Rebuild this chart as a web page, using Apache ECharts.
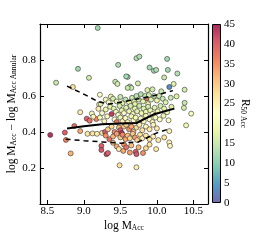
<!DOCTYPE html>
<html><head><meta charset="utf-8">
<script src="https://cdn.jsdelivr.net/npm/echarts@6/dist/echarts.min.js"></script>
<style>html,body{margin:0;padding:0;background:#fff}#c{width:270px;height:240px}</style>
</head><body><div id="c"></div>
<script>
// scatter points: log M_Acc, log M_Acc - log M_Acc Annular, R50 Acc
const logMAcc = [
9.19,8.92,9.47,9.07,8.62,8.85,9.43,9.46,9.60,9.37,9.22,9.21,9.72,9.76,10.14,9.90,9.96,9.99,10.15,10.28,9.58,10.10,9.74,9.63,9.65,10.23,10.17,10.38,9.87,9.94,10.06,9.60,10.27,10.38,10.37,10.47,9.86,9.23,
9.30,9.34,9.40,9.45,9.50,9.53,9.57,9.62,9.66,9.69,9.72,9.75,9.78,9.81,9.84,9.89,9.92,9.96,10.00,10.03,10.08,10.12,10.19,9.70,9.88,
8.95,9.11,9.20,9.25,9.30,9.38,9.36,9.41,9.44,9.47,9.49,9.52,9.55,9.58,9.62,9.64,9.67,9.70,9.73,9.76,9.79,9.82,9.85,9.88,9.91,9.94,9.97,10.01,10.05,10.10,10.14,10.20,
9.04,9.08,9.17,9.13,9.22,9.28,9.32,9.42,9.45,9.50,9.53,9.57,9.60,9.65,9.68,9.71,9.75,9.78,9.82,9.85,9.90,9.94,9.98,10.04,10.09,10.16,
8.74,8.87,8.95,9.05,9.12,9.18,9.25,9.29,9.33,9.38,9.42,9.48,9.50,9.52,9.55,9.58,9.62,9.65,9.68,9.72,9.76,9.80,9.85,9.90,9.95,10.00,10.17,10.40,
8.54,8.755,9.30,9.35,9.40,9.45,9.50,9.53,9.57,9.60,9.63,9.67,9.70,9.73,9.77,9.80,9.85,9.90,9.95,10.02,10.10,10.17,10.18,
8.82,9.24,9.24,9.31,9.33,9.40,9.45,9.48,9.54,9.55,9.58,9.63,9.65,9.71,9.72,9.75,9.81,9.85,9.90,9.99,
9.49,9.72
];
const deltaLogM = [
0.978,0.751,0.773,0.701,0.674,0.650,0.679,0.667,0.706,0.597,0.607,0.553,0.810,0.819,0.806,0.758,0.740,0.745,0.745,0.725,0.709,0.703,0.670,0.653,0.645,0.667,0.650,0.635,0.633,0.637,0.626,0.645,0.598,0.562,0.534,0.502,0.586,0.556,
0.580,0.565,0.585,0.570,0.595,0.560,0.580,0.565,0.590,0.570,0.600,0.580,0.610,0.570,0.600,0.605,0.580,0.600,0.575,0.600,0.585,0.565,0.590,0.555,0.555,
0.510,0.503,0.529,0.505,0.525,0.500,0.540,0.530,0.512,0.495,0.545,0.520,0.505,0.535,0.515,0.545,0.500,0.530,0.515,0.545,0.505,0.530,0.512,0.540,0.520,0.500,0.535,0.515,0.545,0.530,0.510,0.540,
0.474,0.463,0.472,0.485,0.480,0.460,0.487,0.470,0.455,0.480,0.460,0.477,0.455,0.487,0.465,0.480,0.455,0.475,0.460,0.490,0.470,0.455,0.480,0.470,0.490,0.465,
0.397,0.433,0.405,0.390,0.392,0.390,0.395,0.400,0.415,0.430,0.400,0.425,0.410,0.395,0.430,0.440,0.415,0.430,0.400,0.425,0.440,0.410,0.430,0.415,0.440,0.420,0.405,0.437,
0.384,0.356,0.380,0.360,0.375,0.390,0.370,0.385,0.360,0.380,0.365,0.390,0.370,0.355,0.385,0.365,0.380,0.360,0.375,0.355,0.370,0.342,0.323,
0.281,0.323,0.300,0.277,0.283,0.340,0.320,0.305,0.295,0.330,0.315,0.286,0.325,0.290,0.277,0.315,0.283,0.310,0.330,0.305,
0.215,0.204
];
const r50Acc = [
12,12,13,16,15,27,15,16,13,18,22,19,13,13,12,12,12,13,12,13,12,15,16,14,15,17,3,16,17,16,15,15,17,15,16,21,40,18,
20,21,16,18,15,17,14,19,15,17,14,16,13,18,15,16,17,14,18,16,15,17,15,18,19,
25,20,25,22,19,43,18,17,20,21,16,18,22,17,19,16,21,18,17,15,20,17,19,16,18,21,17,19,16,18,20,17,
40,38,36,24,20,24,21,23,38,20,25,22,24,19,22,20,25,21,23,19,22,24,20,22,19,23,
40,38,33,26,27,25,26,41,30,28,36,32,40,44,30,29,35,33,30,28,25,27,24,26,24,26,25,20,
44,36,35,38,32,34,30,36,33,31,28,30,34,29,27,25,26,27,25,26,27,25,24,
32,40,41,42,40,30,33,26,33,35,38,34,31,40,41,32,35,28,27,26,
27,25
];
// running median and percentile lines
const medianX = [8.77, 9.0, 9.25, 9.5, 9.72, 9.95, 10.24];
const medianY = [0.42, 0.432, 0.443, 0.447, 0.45, 0.497, 0.53];
const upperX = [8.77, 9.0, 9.2, 9.35, 9.5, 9.75, 10.0, 10.22];
const upperY = [0.655, 0.61, 0.568, 0.555, 0.565, 0.585, 0.605, 0.63];
const lowerX = [8.75, 9.0, 9.25, 9.5, 9.75, 9.9, 10.0, 10.15];
const lowerY = [0.36, 0.352, 0.345, 0.338, 0.345, 0.375, 0.395, 0.415];
const cbarTicks = [0, 5, 10, 15, 20, 25, 30, 35, 40, 45];

const cmap = ['#7669b0','#519ac7','#7dcbb2','#b7e2b1','#eaf6a7','#ffffc8','#fee49c','#fdba78','#f5835f','#db5b69','#ac275e'];
const FONT = 'Liberation Serif';
const pts = logMAcc.map((x, i) => [x, deltaLogM[i], r50Acc[i]]);
const zip = (a, b) => a.map((x, i) => [x, b[i]]);

const chart = echarts.init(document.getElementById('c'), null, {renderer: 'canvas'});
const tickStyle = {inside: true, length: 4, lineStyle: {color: '#000', width: 1}};
const lineStyle = {show: true, onZero: false, lineStyle: {color: '#000', width: 1.2}};
const lbl = {color: '#000', fontFamily: FONT, fontSize: 11};
const rich = {
  m: {fontFamily: FONT, fontSize: 11.5, color: '#000', verticalAlign: 'top', lineHeight: 12},
  s: {fontFamily: FONT, fontSize: 7.5, color: '#000', verticalAlign: 'bottom', lineHeight: 8, padding: [5, 0, 0, 0]}
};
const gradStops = cmap.map((c, i) => ({offset: 1 - i / (cmap.length - 1), color: c}));

chart.setOption({
  animation: false,
  grid: [
    {left: 40, top: 24, width: 168, height: 180, containLabel: false, outerBoundsMode: 'none'},
    {left: 212, top: 24, width: 9, height: 179, containLabel: false, outerBoundsMode: 'none'}
  ],
  visualMap: {type: 'continuous', show: false, min: 0, max: 45, dimension: 2, seriesIndex: 0, inRange: {color: cmap}},
  xAxis: [
    {gridIndex: 0, type: 'value', min: 8.4, max: 10.7, splitNumber: 5, position: 'bottom',
     axisLine: lineStyle, axisTick: tickStyle, splitLine: {show: false},
     axisLabel: Object.assign({margin: 2, formatter: v => Math.abs(v * 2 - Math.round(v * 2)) < 1e-6 ? v.toFixed(1) : ''}, lbl),
     name: '{m|log M}{s|Acc}', nameLocation: 'middle', nameGap: 16, nameMoveOverlap: false, nameTextStyle: {rich: rich}},
    {gridIndex: 0, type: 'value', min: 8.4, max: 10.7, splitNumber: 5, position: 'top',
     axisLine: lineStyle, axisTick: tickStyle, splitLine: {show: false}, axisLabel: {show: false}},
    {gridIndex: 1, type: 'category', data: ['c'], show: false}
  ],
  yAxis: [
    {gridIndex: 0, type: 'value', min: 0, max: 1, interval: 0.2, position: 'left',
     axisLine: lineStyle, axisTick: tickStyle, splitLine: {show: false},
     axisLabel: Object.assign({margin: 4, formatter: v => (v > 0.01 && v < 0.99) ? v.toFixed(1) : ''}, lbl),
     name: '{m|log M}{s|Acc}{m| − log M}{s|Acc Annular}', nameLocation: 'middle', nameGap: 22, nameRotate: 90,
     nameMoveOverlap: false, nameTextStyle: {rich: rich}},
    {gridIndex: 0, type: 'value', min: 0, max: 1, interval: 0.2, position: 'right',
     axisLine: lineStyle, axisTick: tickStyle, splitLine: {show: false}, axisLabel: {show: false}},
    {gridIndex: 1, type: 'value', min: 0, max: 45, interval: 5, position: 'right',
     axisLine: {show: false}, axisTick: {inside: true, length: 3, lineStyle: {color: '#000', width: 1}},
     splitLine: {show: false},
     axisLabel: Object.assign({margin: 3, formatter: v => cbarTicks.includes(v) ? String(v) : ''}, lbl),
     name: '{m|R}{s|50 Acc}', nameLocation: 'middle', nameGap: 18, nameRotate: -90,
     nameMoveOverlap: false, nameTextStyle: {rich: rich}}
  ],
  series: [
    {type: 'scatter', xAxisIndex: 0, yAxisIndex: 0, data: pts, symbolSize: 5, z: 2,
     itemStyle: {borderColor: '#333', borderWidth: 0.6, opacity: 1}},
    {type: 'line', xAxisIndex: 0, yAxisIndex: 0, data: zip(medianX, medianY), symbol: 'none', z: 5,
     lineStyle: {color: '#000', width: 2}},
    {type: 'line', xAxisIndex: 0, yAxisIndex: 0, data: zip(upperX, upperY), symbol: 'none', z: 5,
     lineStyle: {color: '#000', width: 1.5, type: [5, 4]}},
    {type: 'line', xAxisIndex: 0, yAxisIndex: 0, data: zip(lowerX, lowerY), symbol: 'none', z: 5,
     lineStyle: {color: '#000', width: 1.5, type: [5, 4]}},
    {type: 'bar', xAxisIndex: 2, yAxisIndex: 2, data: [45], barWidth: '100%', silent: true,
     itemStyle: {color: new echarts.graphic.LinearGradient(0, 0, 0, 1, gradStops), borderColor: '#000', borderWidth: 1}}
  ]
});
</script></body></html>
